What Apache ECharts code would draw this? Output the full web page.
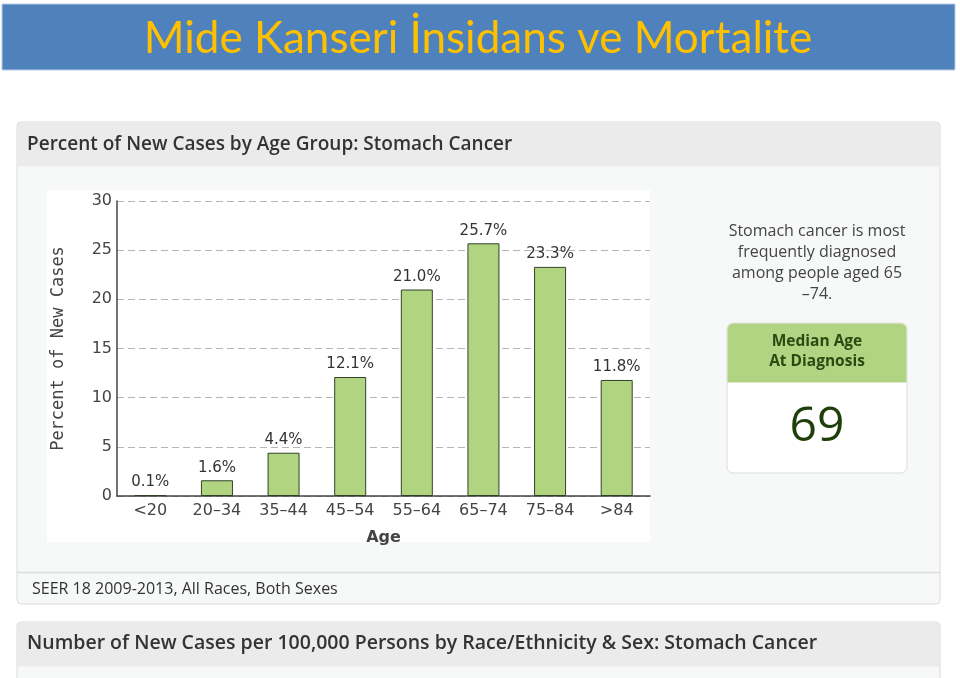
<!DOCTYPE html>
<html><head><meta charset="utf-8">
<script src="https://cdn.jsdelivr.net/npm/echarts@6/dist/echarts.min.js"></script>
<style>html,body{margin:0;padding:0;background:#fff}#c{width:960px;height:678px}</style>
</head><body><div id="c"></div>
<script>
const categories = ['<20','20–34','35–44','45–54','55–64','65–74','75–84','>84'];
const percentNewCases = [0.1, 1.6, 4.4, 12.1, 21.0, 25.7, 23.3, 11.8];
const yTicks = [0, 5, 10, 15, 20, 25, 30];
const pageTitle = 'Mide Kanseri İnsidans ve Mortalite';
const panelTitle = 'Percent of New Cases by Age Group: Stomach Cancer';
const footerText = 'SEER 18 2009-2013, All Races, Both Sexes';
const nextPanelTitle = 'Number of New Cases per 100,000 Persons by Race/Ethnicity & Sex: Stomach Cancer';
const sideText = ['Stomach cancer is most', 'frequently diagnosed', 'among people aged 65', '–74.'];
const medianLabel = ['Median Age', 'At Diagnosis'];
const medianAge = '69';

const chart = echarts.init(document.getElementById('c'));
const bg = [
  {type:'rect', z:-20, shape:{x:2,y:4,width:953,height:66}, style:{fill:'#4f81bd', stroke:'#b8cde6', lineWidth:1}},
  {type:'text', z:-5, x:478, y:39, style:{text:pageTitle, fill:'#ffc000', font:'44px Lato', align:'center', verticalAlign:'middle'}},
  {type:'rect', z:-20, shape:{x:17,y:122,width:923,height:482,r:4}, style:{fill:'#f7f8f8', stroke:'#dadada', lineWidth:1}},
  {type:'rect', z:-19, shape:{x:17.5,y:122.5,width:922,height:44,r:[4,4,0,0]}, style:{fill:'#ebebeb'}},
  {type:'line', z:-19, shape:{x1:17,y1:572.5,x2:940,y2:572.5}, style:{stroke:'#dcdcdc', lineWidth:1.5}},
  {type:'text', z:-5, x:27, y:145, style:{text:panelTitle, fill:'#333', font:'600 19px "Open Sans"', verticalAlign:'middle'}},
  {type:'text', z:-5, x:32, y:589, style:{text:footerText, fill:'#333', font:'16px "Open Sans"', verticalAlign:'middle'}},
  {type:'rect', z:-18, shape:{x:47,y:190,width:603,height:352}, style:{fill:'#ffffff'}},
  {type:'rect', z:-20, shape:{x:17,y:622,width:923,height:80,r:4}, style:{fill:'#f7f8f8', stroke:'#dadada', lineWidth:1}},
  {type:'rect', z:-19, shape:{x:17.5,y:622.5,width:922,height:44,r:[4,4,0,0]}, style:{fill:'#ebebeb'}},
  {type:'text', z:-5, x:27, y:643, style:{text:nextPanelTitle, fill:'#333', font:'600 19.5px "Open Sans"', verticalAlign:'middle'}},
  {type:'rect', z:-15, shape:{x:727,y:323,width:180,height:150,r:6}, style:{fill:'#ffffff', stroke:'#dcdcdc', lineWidth:1}},
  {type:'rect', z:-14, shape:{x:727.5,y:323.5,width:179,height:59,r:[6,6,0,0]}, style:{fill:'#b1d483'}},
  {type:'text', z:-5, x:817, y:427, style:{text:medianAge, fill:'#1f3f08', font:'500 48px "Open Sans"', align:'center', verticalAlign:'middle'}}
];
sideText.forEach((t,i)=>bg.push({type:'text', z:-5, x:817, y:231+i*21, style:{text:t, fill:'#444', font:'16px "Open Sans"', align:'center', verticalAlign:'middle'}}));
medianLabel.forEach((t,i)=>bg.push({type:'text', z:-5, x:817, y:342+i*20, style:{text:t, fill:'#2b4a11', font:'bold 15.5px "Open Sans"', align:'center', verticalAlign:'middle'}}));

chart.setOption({
  animation:false,
  graphic: bg,
  grid:{left:117, top:201, right:310, bottom:182},
  xAxis:{
    type:'category', data:categories,
    name:'Age', nameLocation:'middle', nameGap:34,
    nameTextStyle:{fontFamily:'DejaVu Sans', fontSize:16, fontWeight:'bold', color:'#444'},
    axisLine:{lineStyle:{color:'#444', width:1.5}},
    axisTick:{show:false},
    axisLabel:{fontFamily:'DejaVu Sans', fontSize:16, color:'#444', margin:7}
  },
  yAxis:{
    type:'value', min:yTicks[0], max:yTicks[yTicks.length-1], interval:5,
    name:'Percent of New Cases', nameLocation:'middle', nameGap:50, nameRotate:90,
    nameTextStyle:{fontFamily:'DejaVu Sans Mono', fontSize:17, color:'#444'},
    axisLine:{show:true, lineStyle:{color:'#444', width:1.5}},
    axisTick:{show:false},
    axisLabel:{fontFamily:'DejaVu Sans', fontSize:16, color:'#444', margin:5},
    splitLine:{lineStyle:{color:'#b5b5b5', type:[7,4], width:1}}
  },
  series:[{
    type:'bar', data:percentNewCases, barWidth:32,
    itemStyle:{color:'#b0d480', borderColor:'#33402a', borderWidth:1},
    label:{show:true, position:'top', distance:5, fontFamily:'DejaVu Sans', fontSize:15, color:'#333',
      formatter:p=>p.value.toFixed(1)+'%'}
  }]
});
</script></body></html>
